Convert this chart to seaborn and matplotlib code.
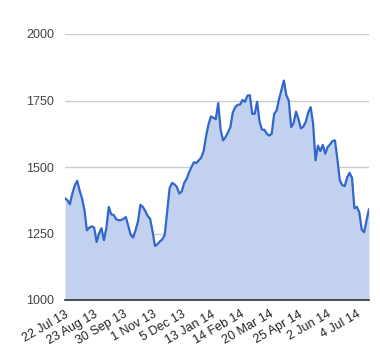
import matplotlib

matplotlib.use("Agg")
import matplotlib.pyplot as plt
import numpy as np
import pandas as pd
import seaborn as sns

prices = [
    1383, 1375, 1360, 1400, 1430, 1448, 1412, 1382, 1338, 1262,
    1272, 1277, 1272, 1218, 1250, 1270, 1225, 1270, 1350, 1322,
    1320, 1304, 1300, 1300, 1305, 1312, 1280, 1245, 1235, 1262,
    1295, 1358, 1350, 1335, 1316, 1305, 1258, 1203, 1210, 1220,
    1228, 1245, 1330, 1420, 1440, 1435, 1425, 1400, 1408, 1440,
    1455, 1480, 1500, 1518, 1515, 1525, 1535, 1560, 1615, 1660,
    1690, 1685, 1680, 1740, 1640, 1600, 1612, 1630, 1650, 1705,
    1725, 1734, 1735, 1752, 1745, 1768, 1770, 1700, 1700, 1745,
    1670, 1640, 1640, 1625, 1618, 1625, 1700, 1712, 1755, 1790,
    1825, 1770, 1750, 1650, 1665, 1708, 1680, 1645, 1652, 1670,
    1705, 1725, 1665, 1525, 1580, 1560, 1583, 1550, 1575, 1585,
    1598, 1600, 1530, 1450, 1432, 1428, 1460, 1478, 1460, 1345,
    1350, 1330, 1265, 1255, 1300, 1342,
]
date_labels = [
    "22 Jul 13", "23 Aug 13", "30 Sep 13", "1 Nov 13", "5 Dec 13",
    "13 Jan 14", "14 Feb 14", "20 Mar 14", "25 Apr 14", "2 Jun 14", "4 Jul 14",
]
y_ticks = [1000, 1250, 1500, 1750, 2000]
LABEL_EVERY = 12  # one label every 24 trading days = 12 samples

sns.set_style("white")
plt.rcParams["font.family"] = ["Liberation Sans", "DejaVu Sans"]

df = pd.DataFrame({"pos": np.arange(len(prices)), "price": prices})

fig = plt.figure(figsize=(3.8, 3.6), dpi=100)
ax = fig.add_axes([65 / 380, 1 - 300 / 360, 304 / 380, 266 / 360])

ax.fill_between(df["pos"], 1000, df["price"], color="#c2d1f0", linewidth=0)
sns.lineplot(data=df, x="pos", y="price", ax=ax, color="#3366cc", linewidth=1.6)

ax.set_xlim(0, len(prices) - 1)
ax.set_ylim(1000, 2000)
ax.set_yticks(y_ticks)
ax.set_yticklabels([str(v) for v in y_ticks], fontsize=9, color="#444444")
ax.set_xticks(df["pos"][::LABEL_EVERY])
ax.set_xticklabels(date_labels, rotation=30, ha="right", rotation_mode="anchor",
                   fontsize=9, color="#222222")
ax.tick_params(axis="both", length=0)
ax.tick_params(axis="y", pad=8)
ax.tick_params(axis="x", pad=6)
ax.set_xlabel("")
ax.set_ylabel("")

ax.grid(axis="y", color="#cccccc", linewidth=1)
ax.set_axisbelow(True)
for side in ["top", "right", "left"]:
    ax.spines[side].set_visible(False)
ax.spines["bottom"].set_color("#333333")
ax.spines["bottom"].set_linewidth(1.2)
ax.spines["bottom"].set_zorder(5)

fig.savefig("out.png", dpi=100)
